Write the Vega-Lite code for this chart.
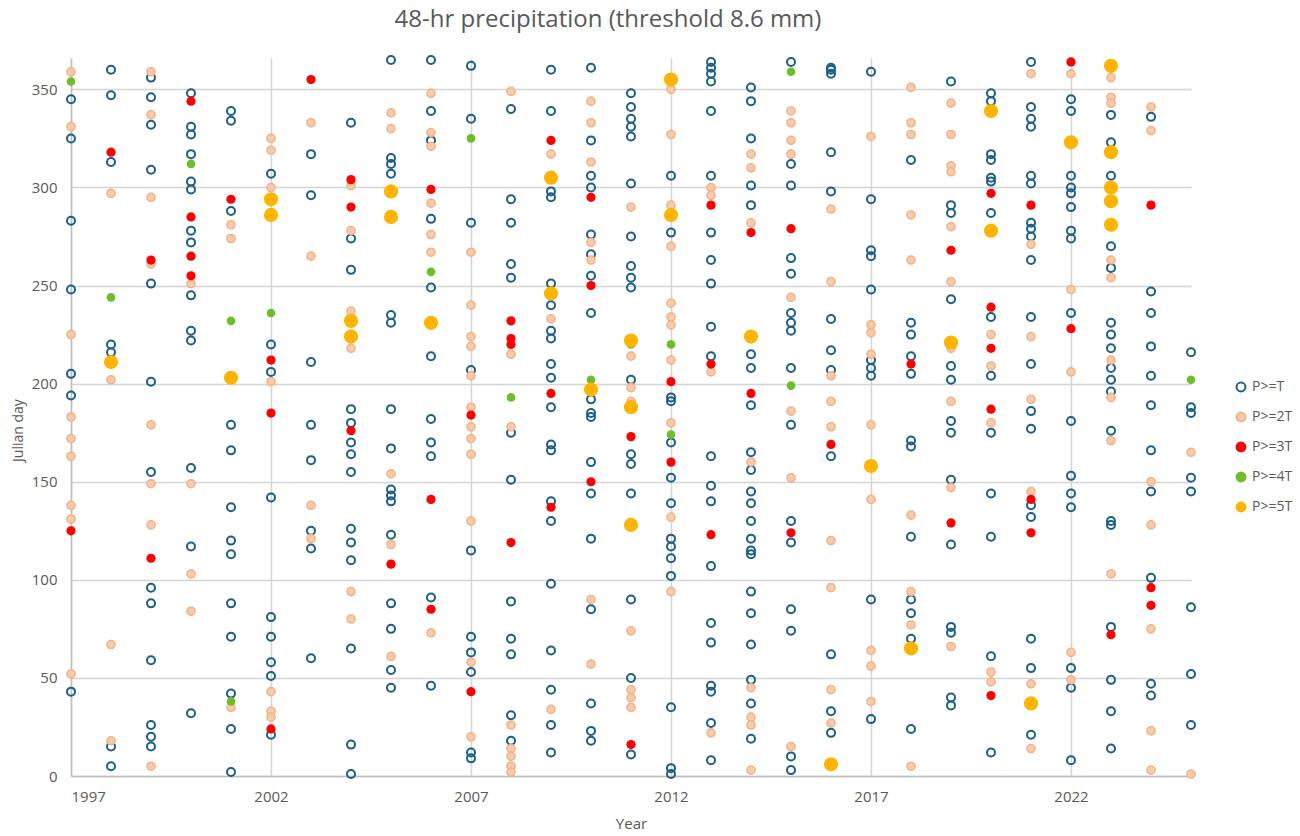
{
"$schema": "https://vega.github.io/schema/vega-lite/v6.json",
"width": 1120, "height": 718,
"autosize": {"type": "none"},
"padding": {"left": 71, "top": 58, "right": 109, "bottom": 60},
"background": "white",
"title": {"text": "48-hr precipitation (threshold 8.6 mm)", "fontSize": 24, "font": "Open Sans", "fontWeight": "normal", "color": "#595959", "anchor": "middle", "frame": "group", "dx": -23, "offset": 8, "baseline": "middle"},
"config": {"view": {"stroke": null}, "font": "Open Sans",
 "legend": {"orient": "none", "legendX": 1163, "legendY": 322, "symbolSize": 80, "symbolStrokeWidth": 2, "labelFontSize": 14, "labelColor": "#595959", "rowPadding": 12, "labelOffset": 4, "title": null, "labelFont": "Open Sans"}},
"datasets": {"pts": [
{"yr":1997,"day":345,"cls":"P>=T"},{"yr":1997,"day":325,"cls":"P>=T"},{"yr":1997,"day":283,"cls":"P>=T"},{"yr":1997,"day":248,"cls":"P>=T"},{"yr":1997,"day":205,"cls":"P>=T"},{"yr":1997,"day":194,"cls":"P>=T"},{"yr":1997,"day":43,"cls":"P>=T"},
{"yr":1997,"day":359,"cls":"P>=2T"},{"yr":1997,"day":331,"cls":"P>=2T"},{"yr":1997,"day":225,"cls":"P>=2T"},{"yr":1997,"day":183,"cls":"P>=2T"},{"yr":1997,"day":172,"cls":"P>=2T"},{"yr":1997,"day":163,"cls":"P>=2T"},{"yr":1997,"day":138,"cls":"P>=2T"},{"yr":1997,"day":131,"cls":"P>=2T"},{"yr":1997,"day":52,"cls":"P>=2T"},
{"yr":1997,"day":125,"cls":"P>=3T"},{"yr":1997,"day":354,"cls":"P>=4T"},
{"yr":1998,"day":360,"cls":"P>=T"},{"yr":1998,"day":347,"cls":"P>=T"},{"yr":1998,"day":313,"cls":"P>=T"},{"yr":1998,"day":220,"cls":"P>=T"},{"yr":1998,"day":216,"cls":"P>=T"},{"yr":1998,"day":15,"cls":"P>=T"},{"yr":1998,"day":5,"cls":"P>=T"},
{"yr":1998,"day":297,"cls":"P>=2T"},{"yr":1998,"day":202,"cls":"P>=2T"},{"yr":1998,"day":67,"cls":"P>=2T"},{"yr":1998,"day":18,"cls":"P>=2T"},
{"yr":1998,"day":318,"cls":"P>=3T"},{"yr":1998,"day":244,"cls":"P>=4T"},{"yr":1998,"day":211,"cls":"P>=5T"},
{"yr":1999,"day":356,"cls":"P>=T"},{"yr":1999,"day":346,"cls":"P>=T"},{"yr":1999,"day":332,"cls":"P>=T"},{"yr":1999,"day":309,"cls":"P>=T"},{"yr":1999,"day":251,"cls":"P>=T"},{"yr":1999,"day":201,"cls":"P>=T"},{"yr":1999,"day":155,"cls":"P>=T"},{"yr":1999,"day":96,"cls":"P>=T"},{"yr":1999,"day":88,"cls":"P>=T"},{"yr":1999,"day":59,"cls":"P>=T"},{"yr":1999,"day":26,"cls":"P>=T"},{"yr":1999,"day":20,"cls":"P>=T"},{"yr":1999,"day":15,"cls":"P>=T"},
{"yr":1999,"day":359,"cls":"P>=2T"},{"yr":1999,"day":337,"cls":"P>=2T"},{"yr":1999,"day":295,"cls":"P>=2T"},{"yr":1999,"day":261,"cls":"P>=2T"},{"yr":1999,"day":179,"cls":"P>=2T"},{"yr":1999,"day":149,"cls":"P>=2T"},{"yr":1999,"day":128,"cls":"P>=2T"},{"yr":1999,"day":5,"cls":"P>=2T"},
{"yr":1999,"day":263,"cls":"P>=3T"},{"yr":1999,"day":111,"cls":"P>=3T"},
{"yr":2000,"day":348,"cls":"P>=T"},{"yr":2000,"day":331,"cls":"P>=T"},{"yr":2000,"day":327,"cls":"P>=T"},{"yr":2000,"day":317,"cls":"P>=T"},{"yr":2000,"day":303,"cls":"P>=T"},{"yr":2000,"day":299,"cls":"P>=T"},{"yr":2000,"day":278,"cls":"P>=T"},{"yr":2000,"day":272,"cls":"P>=T"},{"yr":2000,"day":245,"cls":"P>=T"},{"yr":2000,"day":227,"cls":"P>=T"},{"yr":2000,"day":222,"cls":"P>=T"},{"yr":2000,"day":157,"cls":"P>=T"},{"yr":2000,"day":117,"cls":"P>=T"},{"yr":2000,"day":32,"cls":"P>=T"},
{"yr":2000,"day":251,"cls":"P>=2T"},{"yr":2000,"day":149,"cls":"P>=2T"},{"yr":2000,"day":103,"cls":"P>=2T"},{"yr":2000,"day":84,"cls":"P>=2T"},
{"yr":2000,"day":344,"cls":"P>=3T"},{"yr":2000,"day":285,"cls":"P>=3T"},{"yr":2000,"day":265,"cls":"P>=3T"},{"yr":2000,"day":255,"cls":"P>=3T"},{"yr":2000,"day":312,"cls":"P>=4T"},
{"yr":2001,"day":339,"cls":"P>=T"},{"yr":2001,"day":334,"cls":"P>=T"},{"yr":2001,"day":288,"cls":"P>=T"},{"yr":2001,"day":179,"cls":"P>=T"},{"yr":2001,"day":166,"cls":"P>=T"},{"yr":2001,"day":137,"cls":"P>=T"},{"yr":2001,"day":120,"cls":"P>=T"},{"yr":2001,"day":113,"cls":"P>=T"},{"yr":2001,"day":88,"cls":"P>=T"},{"yr":2001,"day":71,"cls":"P>=T"},{"yr":2001,"day":42,"cls":"P>=T"},{"yr":2001,"day":24,"cls":"P>=T"},{"yr":2001,"day":2,"cls":"P>=T"},
{"yr":2001,"day":281,"cls":"P>=2T"},{"yr":2001,"day":274,"cls":"P>=2T"},{"yr":2001,"day":35,"cls":"P>=2T"},
{"yr":2001,"day":294,"cls":"P>=3T"},{"yr":2001,"day":232,"cls":"P>=4T"},{"yr":2001,"day":38,"cls":"P>=4T"},{"yr":2001,"day":203,"cls":"P>=5T"},
{"yr":2002,"day":307,"cls":"P>=T"},{"yr":2002,"day":220,"cls":"P>=T"},{"yr":2002,"day":206,"cls":"P>=T"},{"yr":2002,"day":142,"cls":"P>=T"},{"yr":2002,"day":81,"cls":"P>=T"},{"yr":2002,"day":71,"cls":"P>=T"},{"yr":2002,"day":58,"cls":"P>=T"},{"yr":2002,"day":51,"cls":"P>=T"},{"yr":2002,"day":21,"cls":"P>=T"},
{"yr":2002,"day":325,"cls":"P>=2T"},{"yr":2002,"day":319,"cls":"P>=2T"},{"yr":2002,"day":300,"cls":"P>=2T"},{"yr":2002,"day":201,"cls":"P>=2T"},{"yr":2002,"day":43,"cls":"P>=2T"},{"yr":2002,"day":33,"cls":"P>=2T"},{"yr":2002,"day":30,"cls":"P>=2T"},
{"yr":2002,"day":212,"cls":"P>=3T"},{"yr":2002,"day":185,"cls":"P>=3T"},{"yr":2002,"day":24,"cls":"P>=3T"},{"yr":2002,"day":236,"cls":"P>=4T"},{"yr":2002,"day":294,"cls":"P>=5T"},{"yr":2002,"day":286,"cls":"P>=5T"},
{"yr":2003,"day":317,"cls":"P>=T"},{"yr":2003,"day":296,"cls":"P>=T"},{"yr":2003,"day":211,"cls":"P>=T"},{"yr":2003,"day":179,"cls":"P>=T"},{"yr":2003,"day":161,"cls":"P>=T"},{"yr":2003,"day":125,"cls":"P>=T"},{"yr":2003,"day":116,"cls":"P>=T"},{"yr":2003,"day":60,"cls":"P>=T"},
{"yr":2003,"day":333,"cls":"P>=2T"},{"yr":2003,"day":265,"cls":"P>=2T"},{"yr":2003,"day":138,"cls":"P>=2T"},{"yr":2003,"day":121,"cls":"P>=2T"},{"yr":2003,"day":355,"cls":"P>=3T"},
{"yr":2004,"day":333,"cls":"P>=T"},{"yr":2004,"day":274,"cls":"P>=T"},{"yr":2004,"day":258,"cls":"P>=T"},{"yr":2004,"day":187,"cls":"P>=T"},{"yr":2004,"day":180,"cls":"P>=T"},{"yr":2004,"day":170,"cls":"P>=T"},{"yr":2004,"day":164,"cls":"P>=T"},{"yr":2004,"day":155,"cls":"P>=T"},{"yr":2004,"day":126,"cls":"P>=T"},{"yr":2004,"day":119,"cls":"P>=T"},{"yr":2004,"day":110,"cls":"P>=T"},{"yr":2004,"day":65,"cls":"P>=T"},{"yr":2004,"day":16,"cls":"P>=T"},{"yr":2004,"day":1,"cls":"P>=T"},
{"yr":2004,"day":301,"cls":"P>=2T"},{"yr":2004,"day":278,"cls":"P>=2T"},{"yr":2004,"day":237,"cls":"P>=2T"},{"yr":2004,"day":218,"cls":"P>=2T"},{"yr":2004,"day":94,"cls":"P>=2T"},{"yr":2004,"day":80,"cls":"P>=2T"},
{"yr":2004,"day":304,"cls":"P>=3T"},{"yr":2004,"day":290,"cls":"P>=3T"},{"yr":2004,"day":176,"cls":"P>=3T"},{"yr":2004,"day":232,"cls":"P>=5T"},{"yr":2004,"day":224,"cls":"P>=5T"},
{"yr":2005,"day":365,"cls":"P>=T"},{"yr":2005,"day":315,"cls":"P>=T"},{"yr":2005,"day":312,"cls":"P>=T"},{"yr":2005,"day":307,"cls":"P>=T"},{"yr":2005,"day":235,"cls":"P>=T"},{"yr":2005,"day":231,"cls":"P>=T"},{"yr":2005,"day":187,"cls":"P>=T"},{"yr":2005,"day":167,"cls":"P>=T"},{"yr":2005,"day":146,"cls":"P>=T"},{"yr":2005,"day":143,"cls":"P>=T"},{"yr":2005,"day":140,"cls":"P>=T"},{"yr":2005,"day":123,"cls":"P>=T"},{"yr":2005,"day":88,"cls":"P>=T"},{"yr":2005,"day":75,"cls":"P>=T"},{"yr":2005,"day":54,"cls":"P>=T"},{"yr":2005,"day":45,"cls":"P>=T"},
{"yr":2005,"day":338,"cls":"P>=2T"},{"yr":2005,"day":330,"cls":"P>=2T"},{"yr":2005,"day":154,"cls":"P>=2T"},{"yr":2005,"day":118,"cls":"P>=2T"},{"yr":2005,"day":61,"cls":"P>=2T"},
{"yr":2005,"day":108,"cls":"P>=3T"},{"yr":2005,"day":298,"cls":"P>=5T"},{"yr":2005,"day":285,"cls":"P>=5T"},
{"yr":2006,"day":365,"cls":"P>=T"},{"yr":2006,"day":339,"cls":"P>=T"},{"yr":2006,"day":324,"cls":"P>=T"},{"yr":2006,"day":284,"cls":"P>=T"},{"yr":2006,"day":249,"cls":"P>=T"},{"yr":2006,"day":214,"cls":"P>=T"},{"yr":2006,"day":182,"cls":"P>=T"},{"yr":2006,"day":170,"cls":"P>=T"},{"yr":2006,"day":163,"cls":"P>=T"},{"yr":2006,"day":91,"cls":"P>=T"},{"yr":2006,"day":46,"cls":"P>=T"},
{"yr":2006,"day":348,"cls":"P>=2T"},{"yr":2006,"day":328,"cls":"P>=2T"},{"yr":2006,"day":321,"cls":"P>=2T"},{"yr":2006,"day":292,"cls":"P>=2T"},{"yr":2006,"day":276,"cls":"P>=2T"},{"yr":2006,"day":267,"cls":"P>=2T"},{"yr":2006,"day":73,"cls":"P>=2T"},
{"yr":2006,"day":299,"cls":"P>=3T"},{"yr":2006,"day":141,"cls":"P>=3T"},{"yr":2006,"day":85,"cls":"P>=3T"},{"yr":2006,"day":257,"cls":"P>=4T"},{"yr":2006,"day":231,"cls":"P>=5T"},
{"yr":2007,"day":362,"cls":"P>=T"},{"yr":2007,"day":335,"cls":"P>=T"},{"yr":2007,"day":282,"cls":"P>=T"},{"yr":2007,"day":207,"cls":"P>=T"},{"yr":2007,"day":115,"cls":"P>=T"},{"yr":2007,"day":71,"cls":"P>=T"},{"yr":2007,"day":63,"cls":"P>=T"},{"yr":2007,"day":53,"cls":"P>=T"},{"yr":2007,"day":12,"cls":"P>=T"},{"yr":2007,"day":9,"cls":"P>=T"},
{"yr":2007,"day":267,"cls":"P>=2T"},{"yr":2007,"day":240,"cls":"P>=2T"},{"yr":2007,"day":224,"cls":"P>=2T"},{"yr":2007,"day":219,"cls":"P>=2T"},{"yr":2007,"day":204,"cls":"P>=2T"},{"yr":2007,"day":188,"cls":"P>=2T"},{"yr":2007,"day":178,"cls":"P>=2T"},{"yr":2007,"day":172,"cls":"P>=2T"},{"yr":2007,"day":164,"cls":"P>=2T"},{"yr":2007,"day":130,"cls":"P>=2T"},{"yr":2007,"day":58,"cls":"P>=2T"},{"yr":2007,"day":20,"cls":"P>=2T"},
{"yr":2007,"day":184,"cls":"P>=3T"},{"yr":2007,"day":43,"cls":"P>=3T"},{"yr":2007,"day":325,"cls":"P>=4T"},
{"yr":2008,"day":340,"cls":"P>=T"},{"yr":2008,"day":294,"cls":"P>=T"},{"yr":2008,"day":282,"cls":"P>=T"},{"yr":2008,"day":261,"cls":"P>=T"},{"yr":2008,"day":254,"cls":"P>=T"},{"yr":2008,"day":175,"cls":"P>=T"},{"yr":2008,"day":151,"cls":"P>=T"},{"yr":2008,"day":89,"cls":"P>=T"},{"yr":2008,"day":70,"cls":"P>=T"},{"yr":2008,"day":62,"cls":"P>=T"},{"yr":2008,"day":31,"cls":"P>=T"},{"yr":2008,"day":18,"cls":"P>=T"},
{"yr":2008,"day":349,"cls":"P>=2T"},{"yr":2008,"day":215,"cls":"P>=2T"},{"yr":2008,"day":178,"cls":"P>=2T"},{"yr":2008,"day":26,"cls":"P>=2T"},{"yr":2008,"day":14,"cls":"P>=2T"},{"yr":2008,"day":10,"cls":"P>=2T"},{"yr":2008,"day":5,"cls":"P>=2T"},{"yr":2008,"day":2,"cls":"P>=2T"},
{"yr":2008,"day":232,"cls":"P>=3T"},{"yr":2008,"day":223,"cls":"P>=3T"},{"yr":2008,"day":220,"cls":"P>=3T"},{"yr":2008,"day":119,"cls":"P>=3T"},{"yr":2008,"day":193,"cls":"P>=4T"},
{"yr":2009,"day":360,"cls":"P>=T"},{"yr":2009,"day":339,"cls":"P>=T"},{"yr":2009,"day":298,"cls":"P>=T"},{"yr":2009,"day":295,"cls":"P>=T"},{"yr":2009,"day":251,"cls":"P>=T"},{"yr":2009,"day":240,"cls":"P>=T"},{"yr":2009,"day":227,"cls":"P>=T"},{"yr":2009,"day":223,"cls":"P>=T"},{"yr":2009,"day":210,"cls":"P>=T"},{"yr":2009,"day":203,"cls":"P>=T"},{"yr":2009,"day":188,"cls":"P>=T"},{"yr":2009,"day":169,"cls":"P>=T"},{"yr":2009,"day":166,"cls":"P>=T"},{"yr":2009,"day":140,"cls":"P>=T"},{"yr":2009,"day":130,"cls":"P>=T"},{"yr":2009,"day":98,"cls":"P>=T"},{"yr":2009,"day":64,"cls":"P>=T"},{"yr":2009,"day":44,"cls":"P>=T"},{"yr":2009,"day":26,"cls":"P>=T"},{"yr":2009,"day":12,"cls":"P>=T"},
{"yr":2009,"day":317,"cls":"P>=2T"},{"yr":2009,"day":233,"cls":"P>=2T"},{"yr":2009,"day":34,"cls":"P>=2T"},
{"yr":2009,"day":324,"cls":"P>=3T"},{"yr":2009,"day":195,"cls":"P>=3T"},{"yr":2009,"day":137,"cls":"P>=3T"},{"yr":2009,"day":305,"cls":"P>=5T"},{"yr":2009,"day":246,"cls":"P>=5T"},
{"yr":2010,"day":361,"cls":"P>=T"},{"yr":2010,"day":324,"cls":"P>=T"},{"yr":2010,"day":306,"cls":"P>=T"},{"yr":2010,"day":300,"cls":"P>=T"},{"yr":2010,"day":276,"cls":"P>=T"},{"yr":2010,"day":266,"cls":"P>=T"},{"yr":2010,"day":255,"cls":"P>=T"},{"yr":2010,"day":236,"cls":"P>=T"},{"yr":2010,"day":192,"cls":"P>=T"},{"yr":2010,"day":185,"cls":"P>=T"},{"yr":2010,"day":183,"cls":"P>=T"},{"yr":2010,"day":160,"cls":"P>=T"},{"yr":2010,"day":144,"cls":"P>=T"},{"yr":2010,"day":121,"cls":"P>=T"},{"yr":2010,"day":85,"cls":"P>=T"},{"yr":2010,"day":37,"cls":"P>=T"},{"yr":2010,"day":23,"cls":"P>=T"},{"yr":2010,"day":18,"cls":"P>=T"},
{"yr":2010,"day":344,"cls":"P>=2T"},{"yr":2010,"day":333,"cls":"P>=2T"},{"yr":2010,"day":313,"cls":"P>=2T"},{"yr":2010,"day":272,"cls":"P>=2T"},{"yr":2010,"day":263,"cls":"P>=2T"},{"yr":2010,"day":90,"cls":"P>=2T"},{"yr":2010,"day":57,"cls":"P>=2T"},
{"yr":2010,"day":295,"cls":"P>=3T"},{"yr":2010,"day":250,"cls":"P>=3T"},{"yr":2010,"day":150,"cls":"P>=3T"},{"yr":2010,"day":202,"cls":"P>=4T"},{"yr":2010,"day":197,"cls":"P>=5T"},
{"yr":2011,"day":348,"cls":"P>=T"},{"yr":2011,"day":341,"cls":"P>=T"},{"yr":2011,"day":335,"cls":"P>=T"},{"yr":2011,"day":331,"cls":"P>=T"},{"yr":2011,"day":326,"cls":"P>=T"},{"yr":2011,"day":302,"cls":"P>=T"},{"yr":2011,"day":275,"cls":"P>=T"},{"yr":2011,"day":260,"cls":"P>=T"},{"yr":2011,"day":254,"cls":"P>=T"},{"yr":2011,"day":249,"cls":"P>=T"},{"yr":2011,"day":202,"cls":"P>=T"},{"yr":2011,"day":164,"cls":"P>=T"},{"yr":2011,"day":159,"cls":"P>=T"},{"yr":2011,"day":144,"cls":"P>=T"},{"yr":2011,"day":90,"cls":"P>=T"},{"yr":2011,"day":50,"cls":"P>=T"},{"yr":2011,"day":11,"cls":"P>=T"},
{"yr":2011,"day":290,"cls":"P>=2T"},{"yr":2011,"day":214,"cls":"P>=2T"},{"yr":2011,"day":198,"cls":"P>=2T"},{"yr":2011,"day":191,"cls":"P>=2T"},{"yr":2011,"day":74,"cls":"P>=2T"},{"yr":2011,"day":44,"cls":"P>=2T"},{"yr":2011,"day":40,"cls":"P>=2T"},{"yr":2011,"day":35,"cls":"P>=2T"},
{"yr":2011,"day":173,"cls":"P>=3T"},{"yr":2011,"day":16,"cls":"P>=3T"},{"yr":2011,"day":220,"cls":"P>=4T"},{"yr":2011,"day":222,"cls":"P>=5T"},{"yr":2011,"day":188,"cls":"P>=5T"},{"yr":2011,"day":128,"cls":"P>=5T"},
{"yr":2012,"day":306,"cls":"P>=T"},{"yr":2012,"day":277,"cls":"P>=T"},{"yr":2012,"day":193,"cls":"P>=T"},{"yr":2012,"day":191,"cls":"P>=T"},{"yr":2012,"day":170,"cls":"P>=T"},{"yr":2012,"day":152,"cls":"P>=T"},{"yr":2012,"day":139,"cls":"P>=T"},{"yr":2012,"day":121,"cls":"P>=T"},{"yr":2012,"day":117,"cls":"P>=T"},{"yr":2012,"day":111,"cls":"P>=T"},{"yr":2012,"day":102,"cls":"P>=T"},{"yr":2012,"day":35,"cls":"P>=T"},{"yr":2012,"day":4,"cls":"P>=T"},{"yr":2012,"day":1,"cls":"P>=T"},
{"yr":2012,"day":350,"cls":"P>=2T"},{"yr":2012,"day":327,"cls":"P>=2T"},{"yr":2012,"day":291,"cls":"P>=2T"},{"yr":2012,"day":270,"cls":"P>=2T"},{"yr":2012,"day":241,"cls":"P>=2T"},{"yr":2012,"day":234,"cls":"P>=2T"},{"yr":2012,"day":230,"cls":"P>=2T"},{"yr":2012,"day":212,"cls":"P>=2T"},{"yr":2012,"day":180,"cls":"P>=2T"},{"yr":2012,"day":132,"cls":"P>=2T"},{"yr":2012,"day":94,"cls":"P>=2T"},
{"yr":2012,"day":201,"cls":"P>=3T"},{"yr":2012,"day":160,"cls":"P>=3T"},{"yr":2012,"day":220,"cls":"P>=4T"},{"yr":2012,"day":174,"cls":"P>=4T"},{"yr":2012,"day":355,"cls":"P>=5T"},{"yr":2012,"day":286,"cls":"P>=5T"},
{"yr":2013,"day":364,"cls":"P>=T"},{"yr":2013,"day":361,"cls":"P>=T"},{"yr":2013,"day":358,"cls":"P>=T"},{"yr":2013,"day":354,"cls":"P>=T"},{"yr":2013,"day":339,"cls":"P>=T"},{"yr":2013,"day":306,"cls":"P>=T"},{"yr":2013,"day":277,"cls":"P>=T"},{"yr":2013,"day":263,"cls":"P>=T"},{"yr":2013,"day":251,"cls":"P>=T"},{"yr":2013,"day":229,"cls":"P>=T"},{"yr":2013,"day":214,"cls":"P>=T"},{"yr":2013,"day":163,"cls":"P>=T"},{"yr":2013,"day":148,"cls":"P>=T"},{"yr":2013,"day":140,"cls":"P>=T"},{"yr":2013,"day":107,"cls":"P>=T"},{"yr":2013,"day":78,"cls":"P>=T"},{"yr":2013,"day":68,"cls":"P>=T"},{"yr":2013,"day":46,"cls":"P>=T"},{"yr":2013,"day":43,"cls":"P>=T"},{"yr":2013,"day":27,"cls":"P>=T"},{"yr":2013,"day":8,"cls":"P>=T"},
{"yr":2013,"day":300,"cls":"P>=2T"},{"yr":2013,"day":296,"cls":"P>=2T"},{"yr":2013,"day":206,"cls":"P>=2T"},{"yr":2013,"day":22,"cls":"P>=2T"},
{"yr":2013,"day":291,"cls":"P>=3T"},{"yr":2013,"day":210,"cls":"P>=3T"},{"yr":2013,"day":123,"cls":"P>=3T"},
{"yr":2014,"day":351,"cls":"P>=T"},{"yr":2014,"day":344,"cls":"P>=T"},{"yr":2014,"day":325,"cls":"P>=T"},{"yr":2014,"day":301,"cls":"P>=T"},{"yr":2014,"day":291,"cls":"P>=T"},{"yr":2014,"day":215,"cls":"P>=T"},{"yr":2014,"day":208,"cls":"P>=T"},{"yr":2014,"day":189,"cls":"P>=T"},{"yr":2014,"day":165,"cls":"P>=T"},{"yr":2014,"day":156,"cls":"P>=T"},{"yr":2014,"day":145,"cls":"P>=T"},{"yr":2014,"day":139,"cls":"P>=T"},{"yr":2014,"day":130,"cls":"P>=T"},{"yr":2014,"day":121,"cls":"P>=T"},{"yr":2014,"day":115,"cls":"P>=T"},{"yr":2014,"day":113,"cls":"P>=T"},{"yr":2014,"day":94,"cls":"P>=T"},{"yr":2014,"day":83,"cls":"P>=T"},{"yr":2014,"day":67,"cls":"P>=T"},{"yr":2014,"day":49,"cls":"P>=T"},{"yr":2014,"day":37,"cls":"P>=T"},{"yr":2014,"day":19,"cls":"P>=T"},
{"yr":2014,"day":317,"cls":"P>=2T"},{"yr":2014,"day":310,"cls":"P>=2T"},{"yr":2014,"day":282,"cls":"P>=2T"},{"yr":2014,"day":160,"cls":"P>=2T"},{"yr":2014,"day":45,"cls":"P>=2T"},{"yr":2014,"day":30,"cls":"P>=2T"},{"yr":2014,"day":26,"cls":"P>=2T"},{"yr":2014,"day":3,"cls":"P>=2T"},
{"yr":2014,"day":277,"cls":"P>=3T"},{"yr":2014,"day":195,"cls":"P>=3T"},{"yr":2014,"day":224,"cls":"P>=5T"},
{"yr":2015,"day":364,"cls":"P>=T"},{"yr":2015,"day":312,"cls":"P>=T"},{"yr":2015,"day":301,"cls":"P>=T"},{"yr":2015,"day":264,"cls":"P>=T"},{"yr":2015,"day":256,"cls":"P>=T"},{"yr":2015,"day":236,"cls":"P>=T"},{"yr":2015,"day":231,"cls":"P>=T"},{"yr":2015,"day":227,"cls":"P>=T"},{"yr":2015,"day":208,"cls":"P>=T"},{"yr":2015,"day":179,"cls":"P>=T"},{"yr":2015,"day":130,"cls":"P>=T"},{"yr":2015,"day":119,"cls":"P>=T"},{"yr":2015,"day":85,"cls":"P>=T"},{"yr":2015,"day":74,"cls":"P>=T"},{"yr":2015,"day":10,"cls":"P>=T"},{"yr":2015,"day":3,"cls":"P>=T"},
{"yr":2015,"day":339,"cls":"P>=2T"},{"yr":2015,"day":333,"cls":"P>=2T"},{"yr":2015,"day":324,"cls":"P>=2T"},{"yr":2015,"day":317,"cls":"P>=2T"},{"yr":2015,"day":244,"cls":"P>=2T"},{"yr":2015,"day":186,"cls":"P>=2T"},{"yr":2015,"day":152,"cls":"P>=2T"},{"yr":2015,"day":15,"cls":"P>=2T"},
{"yr":2015,"day":279,"cls":"P>=3T"},{"yr":2015,"day":124,"cls":"P>=3T"},{"yr":2015,"day":359,"cls":"P>=4T"},{"yr":2015,"day":199,"cls":"P>=4T"},
{"yr":2016,"day":361,"cls":"P>=T"},{"yr":2016,"day":360,"cls":"P>=T"},{"yr":2016,"day":358,"cls":"P>=T"},{"yr":2016,"day":318,"cls":"P>=T"},{"yr":2016,"day":298,"cls":"P>=T"},{"yr":2016,"day":233,"cls":"P>=T"},{"yr":2016,"day":217,"cls":"P>=T"},{"yr":2016,"day":207,"cls":"P>=T"},{"yr":2016,"day":163,"cls":"P>=T"},{"yr":2016,"day":62,"cls":"P>=T"},{"yr":2016,"day":33,"cls":"P>=T"},{"yr":2016,"day":22,"cls":"P>=T"},
{"yr":2016,"day":289,"cls":"P>=2T"},{"yr":2016,"day":252,"cls":"P>=2T"},{"yr":2016,"day":204,"cls":"P>=2T"},{"yr":2016,"day":191,"cls":"P>=2T"},{"yr":2016,"day":178,"cls":"P>=2T"},{"yr":2016,"day":120,"cls":"P>=2T"},{"yr":2016,"day":96,"cls":"P>=2T"},{"yr":2016,"day":44,"cls":"P>=2T"},{"yr":2016,"day":27,"cls":"P>=2T"},
{"yr":2016,"day":169,"cls":"P>=3T"},{"yr":2016,"day":6,"cls":"P>=5T"},
{"yr":2017,"day":359,"cls":"P>=T"},{"yr":2017,"day":294,"cls":"P>=T"},{"yr":2017,"day":268,"cls":"P>=T"},{"yr":2017,"day":265,"cls":"P>=T"},{"yr":2017,"day":248,"cls":"P>=T"},{"yr":2017,"day":212,"cls":"P>=T"},{"yr":2017,"day":208,"cls":"P>=T"},{"yr":2017,"day":204,"cls":"P>=T"},{"yr":2017,"day":90,"cls":"P>=T"},{"yr":2017,"day":29,"cls":"P>=T"},
{"yr":2017,"day":326,"cls":"P>=2T"},{"yr":2017,"day":230,"cls":"P>=2T"},{"yr":2017,"day":226,"cls":"P>=2T"},{"yr":2017,"day":215,"cls":"P>=2T"},{"yr":2017,"day":179,"cls":"P>=2T"},{"yr":2017,"day":141,"cls":"P>=2T"},{"yr":2017,"day":64,"cls":"P>=2T"},{"yr":2017,"day":56,"cls":"P>=2T"},{"yr":2017,"day":38,"cls":"P>=2T"},
{"yr":2017,"day":158,"cls":"P>=5T"},
{"yr":2018,"day":314,"cls":"P>=T"},{"yr":2018,"day":231,"cls":"P>=T"},{"yr":2018,"day":225,"cls":"P>=T"},{"yr":2018,"day":214,"cls":"P>=T"},{"yr":2018,"day":205,"cls":"P>=T"},{"yr":2018,"day":171,"cls":"P>=T"},{"yr":2018,"day":168,"cls":"P>=T"},{"yr":2018,"day":122,"cls":"P>=T"},{"yr":2018,"day":90,"cls":"P>=T"},{"yr":2018,"day":83,"cls":"P>=T"},{"yr":2018,"day":70,"cls":"P>=T"},{"yr":2018,"day":24,"cls":"P>=T"},
{"yr":2018,"day":351,"cls":"P>=2T"},{"yr":2018,"day":333,"cls":"P>=2T"},{"yr":2018,"day":327,"cls":"P>=2T"},{"yr":2018,"day":286,"cls":"P>=2T"},{"yr":2018,"day":263,"cls":"P>=2T"},{"yr":2018,"day":133,"cls":"P>=2T"},{"yr":2018,"day":94,"cls":"P>=2T"},{"yr":2018,"day":77,"cls":"P>=2T"},{"yr":2018,"day":5,"cls":"P>=2T"},
{"yr":2018,"day":210,"cls":"P>=3T"},{"yr":2018,"day":65,"cls":"P>=5T"},
{"yr":2019,"day":354,"cls":"P>=T"},{"yr":2019,"day":291,"cls":"P>=T"},{"yr":2019,"day":287,"cls":"P>=T"},{"yr":2019,"day":243,"cls":"P>=T"},{"yr":2019,"day":209,"cls":"P>=T"},{"yr":2019,"day":202,"cls":"P>=T"},{"yr":2019,"day":181,"cls":"P>=T"},{"yr":2019,"day":175,"cls":"P>=T"},{"yr":2019,"day":151,"cls":"P>=T"},{"yr":2019,"day":118,"cls":"P>=T"},{"yr":2019,"day":76,"cls":"P>=T"},{"yr":2019,"day":73,"cls":"P>=T"},{"yr":2019,"day":40,"cls":"P>=T"},{"yr":2019,"day":36,"cls":"P>=T"},
{"yr":2019,"day":343,"cls":"P>=2T"},{"yr":2019,"day":327,"cls":"P>=2T"},{"yr":2019,"day":311,"cls":"P>=2T"},{"yr":2019,"day":308,"cls":"P>=2T"},{"yr":2019,"day":280,"cls":"P>=2T"},{"yr":2019,"day":252,"cls":"P>=2T"},{"yr":2019,"day":218,"cls":"P>=2T"},{"yr":2019,"day":191,"cls":"P>=2T"},{"yr":2019,"day":147,"cls":"P>=2T"},{"yr":2019,"day":66,"cls":"P>=2T"},
{"yr":2019,"day":268,"cls":"P>=3T"},{"yr":2019,"day":129,"cls":"P>=3T"},{"yr":2019,"day":221,"cls":"P>=5T"},
{"yr":2020,"day":348,"cls":"P>=T"},{"yr":2020,"day":344,"cls":"P>=T"},{"yr":2020,"day":317,"cls":"P>=T"},{"yr":2020,"day":314,"cls":"P>=T"},{"yr":2020,"day":305,"cls":"P>=T"},{"yr":2020,"day":303,"cls":"P>=T"},{"yr":2020,"day":287,"cls":"P>=T"},{"yr":2020,"day":234,"cls":"P>=T"},{"yr":2020,"day":204,"cls":"P>=T"},{"yr":2020,"day":175,"cls":"P>=T"},{"yr":2020,"day":144,"cls":"P>=T"},{"yr":2020,"day":122,"cls":"P>=T"},{"yr":2020,"day":61,"cls":"P>=T"},{"yr":2020,"day":12,"cls":"P>=T"},
{"yr":2020,"day":225,"cls":"P>=2T"},{"yr":2020,"day":209,"cls":"P>=2T"},{"yr":2020,"day":180,"cls":"P>=2T"},{"yr":2020,"day":53,"cls":"P>=2T"},{"yr":2020,"day":48,"cls":"P>=2T"},
{"yr":2020,"day":297,"cls":"P>=3T"},{"yr":2020,"day":239,"cls":"P>=3T"},{"yr":2020,"day":218,"cls":"P>=3T"},{"yr":2020,"day":187,"cls":"P>=3T"},{"yr":2020,"day":41,"cls":"P>=3T"},{"yr":2020,"day":339,"cls":"P>=5T"},{"yr":2020,"day":278,"cls":"P>=5T"},
{"yr":2021,"day":364,"cls":"P>=T"},{"yr":2021,"day":341,"cls":"P>=T"},{"yr":2021,"day":335,"cls":"P>=T"},{"yr":2021,"day":331,"cls":"P>=T"},{"yr":2021,"day":306,"cls":"P>=T"},{"yr":2021,"day":302,"cls":"P>=T"},{"yr":2021,"day":282,"cls":"P>=T"},{"yr":2021,"day":279,"cls":"P>=T"},{"yr":2021,"day":275,"cls":"P>=T"},{"yr":2021,"day":263,"cls":"P>=T"},{"yr":2021,"day":234,"cls":"P>=T"},{"yr":2021,"day":210,"cls":"P>=T"},{"yr":2021,"day":186,"cls":"P>=T"},{"yr":2021,"day":177,"cls":"P>=T"},{"yr":2021,"day":138,"cls":"P>=T"},{"yr":2021,"day":132,"cls":"P>=T"},{"yr":2021,"day":70,"cls":"P>=T"},{"yr":2021,"day":55,"cls":"P>=T"},{"yr":2021,"day":21,"cls":"P>=T"},
{"yr":2021,"day":358,"cls":"P>=2T"},{"yr":2021,"day":271,"cls":"P>=2T"},{"yr":2021,"day":224,"cls":"P>=2T"},{"yr":2021,"day":192,"cls":"P>=2T"},{"yr":2021,"day":145,"cls":"P>=2T"},{"yr":2021,"day":47,"cls":"P>=2T"},{"yr":2021,"day":14,"cls":"P>=2T"},
{"yr":2021,"day":291,"cls":"P>=3T"},{"yr":2021,"day":141,"cls":"P>=3T"},{"yr":2021,"day":124,"cls":"P>=3T"},{"yr":2021,"day":37,"cls":"P>=5T"},
{"yr":2022,"day":345,"cls":"P>=T"},{"yr":2022,"day":339,"cls":"P>=T"},{"yr":2022,"day":306,"cls":"P>=T"},{"yr":2022,"day":300,"cls":"P>=T"},{"yr":2022,"day":297,"cls":"P>=T"},{"yr":2022,"day":290,"cls":"P>=T"},{"yr":2022,"day":278,"cls":"P>=T"},{"yr":2022,"day":274,"cls":"P>=T"},{"yr":2022,"day":236,"cls":"P>=T"},{"yr":2022,"day":181,"cls":"P>=T"},{"yr":2022,"day":153,"cls":"P>=T"},{"yr":2022,"day":144,"cls":"P>=T"},{"yr":2022,"day":137,"cls":"P>=T"},{"yr":2022,"day":55,"cls":"P>=T"},{"yr":2022,"day":45,"cls":"P>=T"},{"yr":2022,"day":8,"cls":"P>=T"},
{"yr":2022,"day":358,"cls":"P>=2T"},{"yr":2022,"day":248,"cls":"P>=2T"},{"yr":2022,"day":206,"cls":"P>=2T"},{"yr":2022,"day":63,"cls":"P>=2T"},{"yr":2022,"day":49,"cls":"P>=2T"},
{"yr":2022,"day":364,"cls":"P>=3T"},{"yr":2022,"day":228,"cls":"P>=3T"},{"yr":2022,"day":323,"cls":"P>=5T"},
{"yr":2023,"day":337,"cls":"P>=T"},{"yr":2023,"day":323,"cls":"P>=T"},{"yr":2023,"day":306,"cls":"P>=T"},{"yr":2023,"day":270,"cls":"P>=T"},{"yr":2023,"day":259,"cls":"P>=T"},{"yr":2023,"day":231,"cls":"P>=T"},{"yr":2023,"day":225,"cls":"P>=T"},{"yr":2023,"day":218,"cls":"P>=T"},{"yr":2023,"day":208,"cls":"P>=T"},{"yr":2023,"day":202,"cls":"P>=T"},{"yr":2023,"day":196,"cls":"P>=T"},{"yr":2023,"day":176,"cls":"P>=T"},{"yr":2023,"day":130,"cls":"P>=T"},{"yr":2023,"day":128,"cls":"P>=T"},{"yr":2023,"day":76,"cls":"P>=T"},{"yr":2023,"day":49,"cls":"P>=T"},{"yr":2023,"day":33,"cls":"P>=T"},{"yr":2023,"day":14,"cls":"P>=T"},
{"yr":2023,"day":356,"cls":"P>=2T"},{"yr":2023,"day":346,"cls":"P>=2T"},{"yr":2023,"day":343,"cls":"P>=2T"},{"yr":2023,"day":263,"cls":"P>=2T"},{"yr":2023,"day":254,"cls":"P>=2T"},{"yr":2023,"day":212,"cls":"P>=2T"},{"yr":2023,"day":193,"cls":"P>=2T"},{"yr":2023,"day":171,"cls":"P>=2T"},{"yr":2023,"day":103,"cls":"P>=2T"},
{"yr":2023,"day":72,"cls":"P>=3T"},{"yr":2023,"day":362,"cls":"P>=5T"},{"yr":2023,"day":318,"cls":"P>=5T"},{"yr":2023,"day":300,"cls":"P>=5T"},{"yr":2023,"day":293,"cls":"P>=5T"},{"yr":2023,"day":281,"cls":"P>=5T"},
{"yr":2024,"day":336,"cls":"P>=T"},{"yr":2024,"day":247,"cls":"P>=T"},{"yr":2024,"day":236,"cls":"P>=T"},{"yr":2024,"day":219,"cls":"P>=T"},{"yr":2024,"day":204,"cls":"P>=T"},{"yr":2024,"day":189,"cls":"P>=T"},{"yr":2024,"day":166,"cls":"P>=T"},{"yr":2024,"day":145,"cls":"P>=T"},{"yr":2024,"day":101,"cls":"P>=T"},{"yr":2024,"day":47,"cls":"P>=T"},{"yr":2024,"day":41,"cls":"P>=T"},
{"yr":2024,"day":341,"cls":"P>=2T"},{"yr":2024,"day":329,"cls":"P>=2T"},{"yr":2024,"day":150,"cls":"P>=2T"},{"yr":2024,"day":128,"cls":"P>=2T"},{"yr":2024,"day":75,"cls":"P>=2T"},{"yr":2024,"day":23,"cls":"P>=2T"},{"yr":2024,"day":3,"cls":"P>=2T"},
{"yr":2024,"day":291,"cls":"P>=3T"},{"yr":2024,"day":96,"cls":"P>=3T"},{"yr":2024,"day":87,"cls":"P>=3T"},
{"yr":2025,"day":216,"cls":"P>=T"},{"yr":2025,"day":188,"cls":"P>=T"},{"yr":2025,"day":185,"cls":"P>=T"},{"yr":2025,"day":152,"cls":"P>=T"},{"yr":2025,"day":145,"cls":"P>=T"},{"yr":2025,"day":86,"cls":"P>=T"},{"yr":2025,"day":52,"cls":"P>=T"},{"yr":2025,"day":26,"cls":"P>=T"},
{"yr":2025,"day":165,"cls":"P>=2T"},{"yr":2025,"day":1,"cls":"P>=2T"},{"yr":2025,"day":202,"cls":"P>=4T"}
]},
"data": {"name": "pts"},
"encoding": {
 "x": {"field": "yr", "type": "quantitative", "scale": {"domain": [1997, 2025], "nice": false, "zero": false},
  "axis": {"title": "Year", "values": [1997, 2002, 2007, 2012, 2017, 2022], "format": "d", "grid": true, "gridColor": "#D4D4D4", "gridWidth": 1.5, "ticks": false, "domain": true, "domainColor": "#BFBFBF", "domainWidth": 1.5, "labelFontSize": 15, "labelColor": "#595959", "labelPadding": 13, "labelFont": "Open Sans", "titleFont": "Open Sans", "titleFontSize": 15, "titleColor": "#595959", "titleFontWeight": "normal", "titleY": 47, "titleBaseline": "middle"}},
 "y": {"field": "day", "type": "quantitative", "scale": {"domain": [0, 366], "nice": false},
  "axis": {"title": "Julian day", "values": [0, 50, 100, 150, 200, 250, 300, 350], "grid": true, "gridColor": "#D4D4D4", "gridWidth": 1.5, "ticks": false, "domain": true, "domainColor": "#BFBFBF", "domainWidth": 1.5, "labelFontSize": 15, "labelColor": "#595959", "labelPadding": 14, "labelFont": "Open Sans", "titleFont": "Open Sans", "titleFontSize": 14, "titleColor": "#595959", "titleFontWeight": "normal", "titleX": -53, "titleY": 372, "titleAngle": 270, "titleBaseline": "middle", "titleAlign": "center"}},
 "fill": {"field": "cls", "type": "nominal", "scale": {"domain": ["P>=T", "P>=2T", "P>=3T", "P>=4T", "P>=5T"], "range": ["rgba(255,255,255,0)", "#F8CBAD", "#FF0000", "#6CBF26", "#FFB400"]}, "legend": {"title": null}},
 "stroke": {"field": "cls", "type": "nominal", "scale": {"domain": ["P>=T", "P>=2T", "P>=3T", "P>=4T", "P>=5T"], "range": ["#1B5E8A", "#F4B183", "#FF0000", "#6CBF26", "#FFB400"]}, "legend": {"title": null}}
},
"layer": [
 {"transform": [{"filter": "datum.cls === 'P>=T'"}], "mark": {"type": "circle", "size": 64, "strokeWidth": 2, "opacity": 1}},
 {"transform": [{"filter": "datum.cls === 'P>=2T'"}], "mark": {"type": "circle", "size": 66, "strokeWidth": 1.5, "opacity": 1}},
 {"transform": [{"filter": "datum.cls === 'P>=3T'"}], "mark": {"type": "circle", "size": 85, "strokeWidth": 0, "opacity": 1}},
 {"transform": [{"filter": "datum.cls === 'P>=4T'"}], "mark": {"type": "circle", "size": 75, "strokeWidth": 0, "opacity": 1}},
 {"transform": [{"filter": "datum.cls === 'P>=5T'"}], "mark": {"type": "circle", "size": 200, "strokeWidth": 0, "opacity": 1}}
]
}
